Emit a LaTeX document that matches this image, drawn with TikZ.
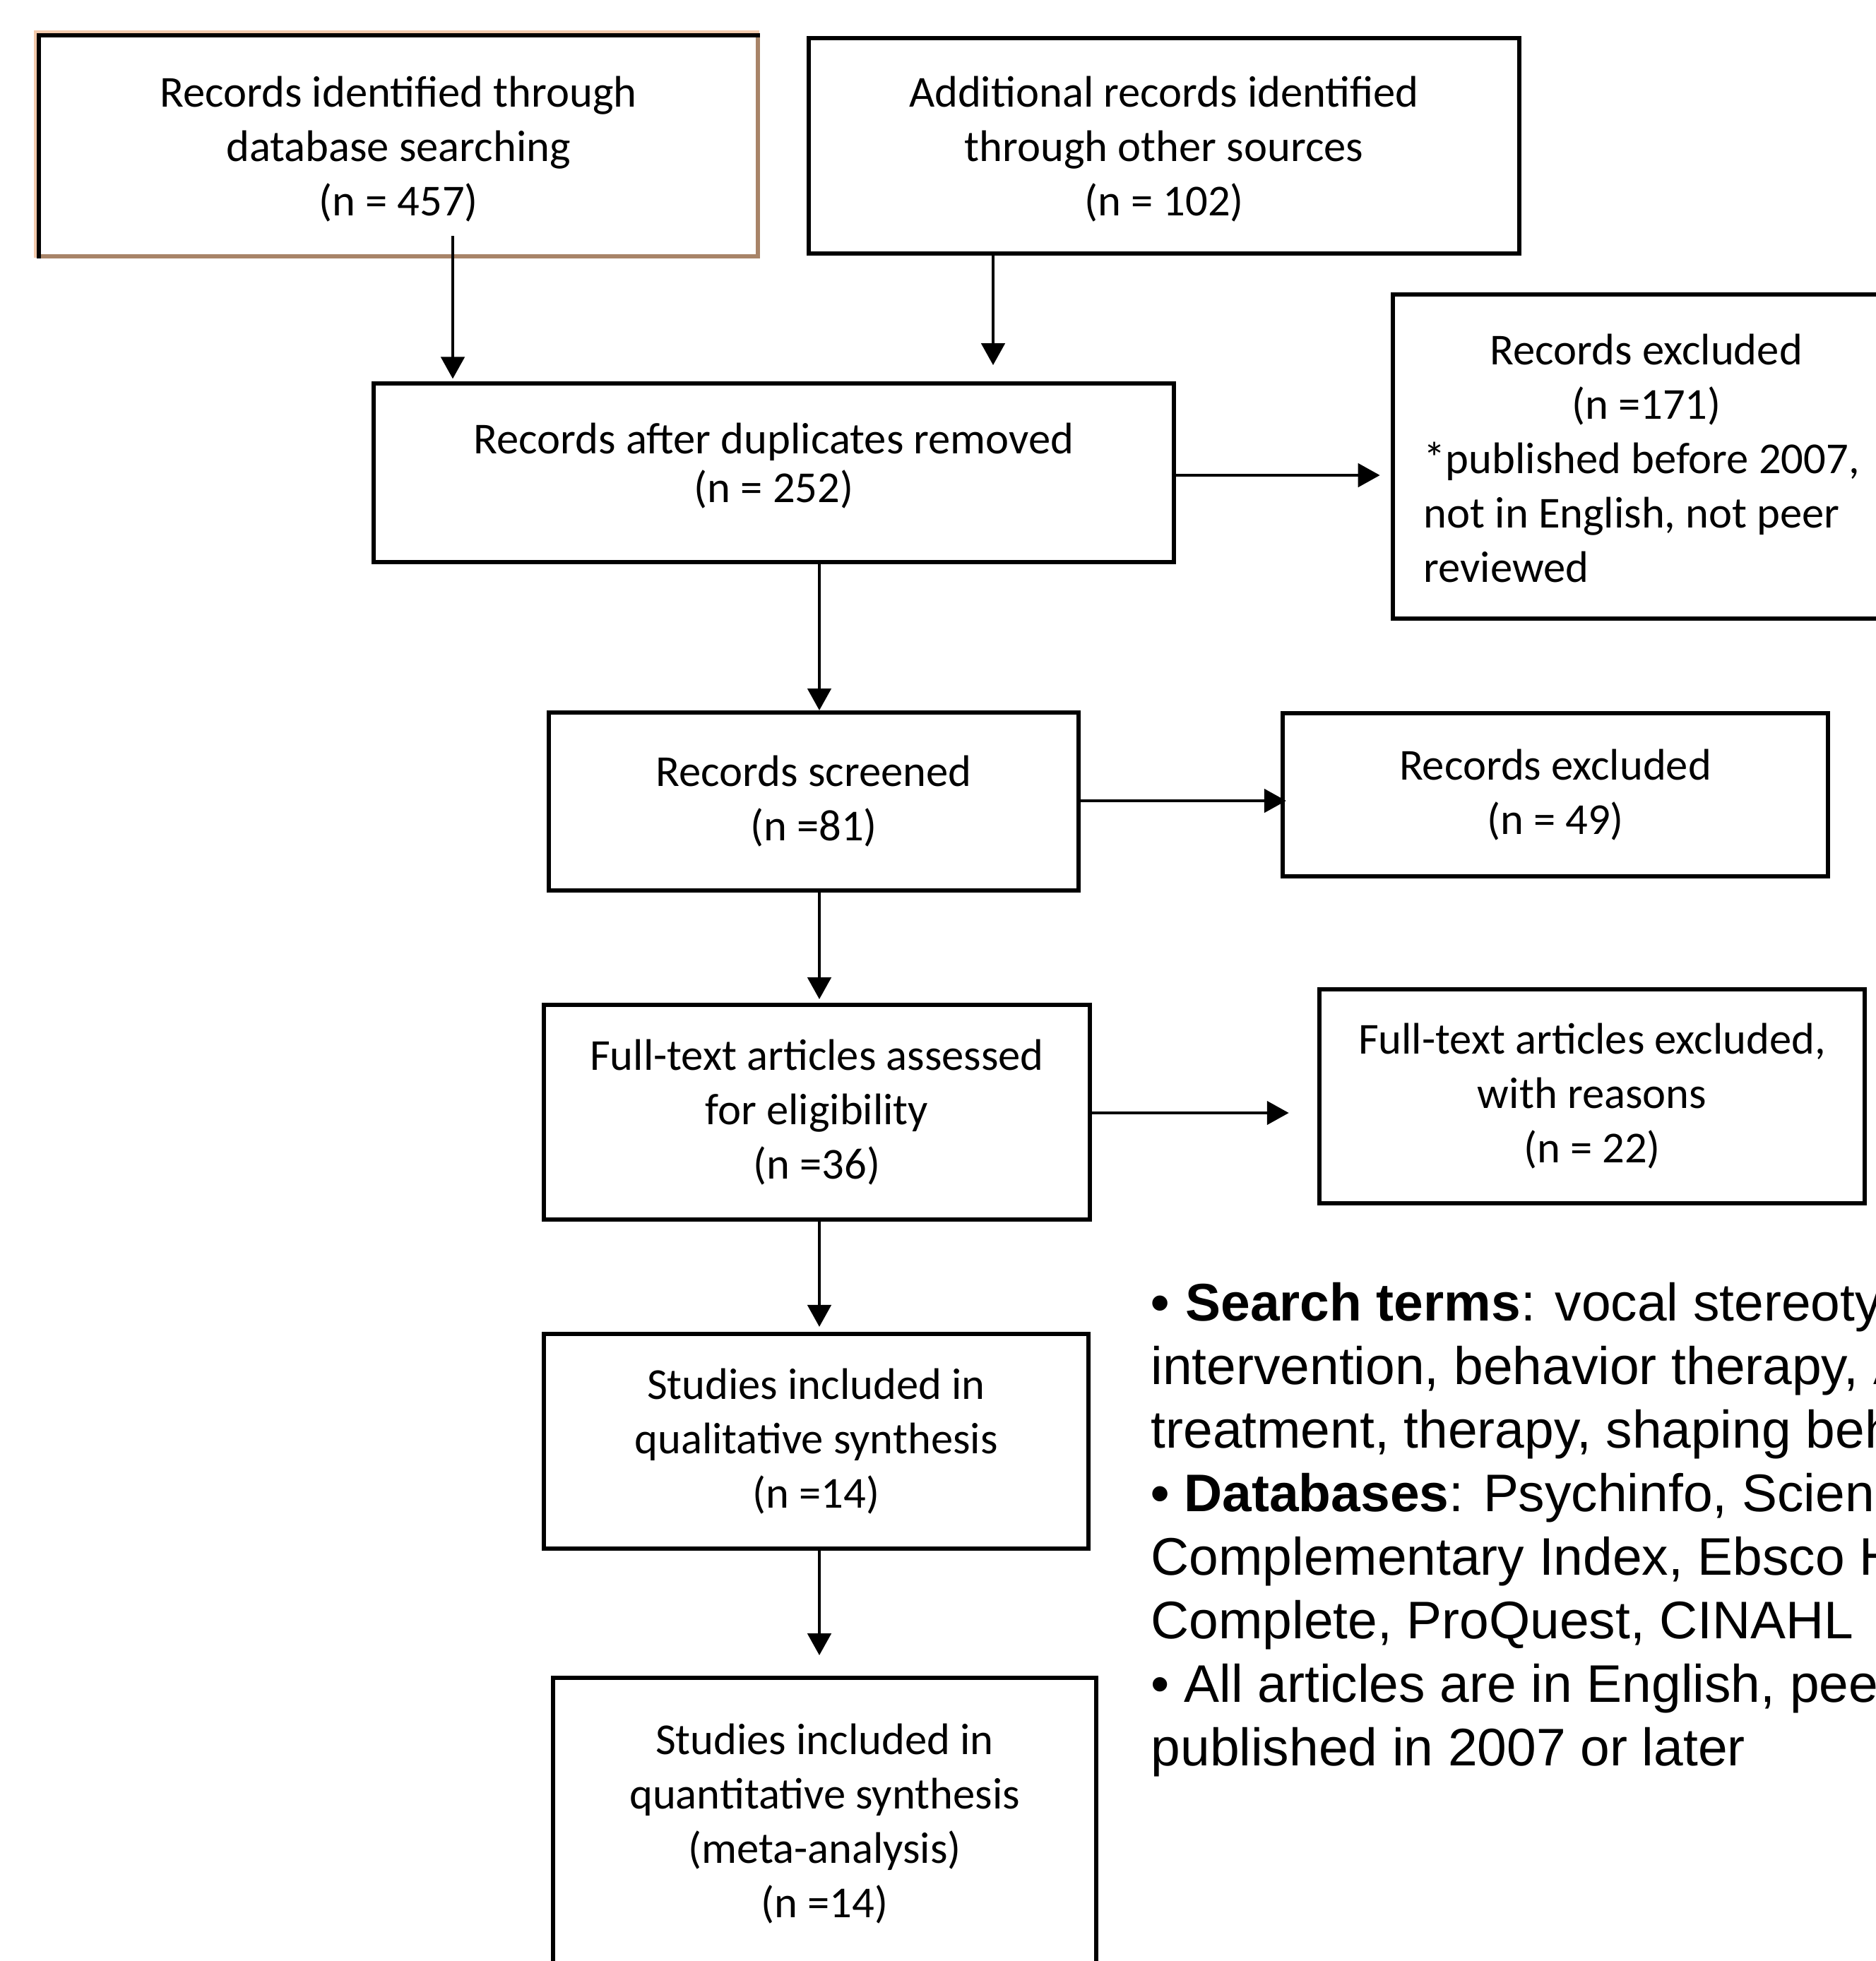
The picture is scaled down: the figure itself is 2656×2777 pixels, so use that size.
\documentclass[tikz,border=0pt]{standalone}
\usepackage{fontspec}
\setmainfont{Carlito}
\newfontfamily\arialf{Liberation Sans}
\usetikzlibrary{arrows.meta}
\definecolor{peachc}{HTML}{F2C9AC}
\definecolor{brownc}{HTML}{A88468}
\begin{document}
\begin{tikzpicture}[x=0.01cm,y=-0.01cm,
  flowbox/.style={draw, line width=1.7pt, inner sep=0pt, align=center,
    font=\fontsize{17.8pt}{21.9pt}\selectfont},
  flowtext/.style={inner sep=0pt, font=\fontsize{17.8pt}{21.9pt}\selectfont},
  notetext/.style={inner sep=0pt, font=\arialf\fontsize{21.3pt}{25.6pt}\selectfont},
  arr/.style={line width=1.3pt, -{Triangle[length=8.8pt,width=9.4pt]}}]
\useasboundingbox (0,0) rectangle (2656,2777);
\fill[white] (0,0) rectangle (2656,2777);
\clip (0,0) rectangle (2656,2777);

% box A (tan / black border)
\node[flowbox, draw=none, minimum width=10.12cm, minimum height=3.07cm, text depth=0pt] (A) at (564,206.5)
  {Records identified through\\database searching\\(n = 457)};
\draw[peachc, line width=1.1pt, line cap=rect] ([shift={(-5,0)}]A.south west) -- ([shift={(-5,-5)}]A.north west) -- ([shift={(0,-5)}]A.north east);
\draw[brownc, line width=1.7pt, line cap=rect] (A.north east) -- (A.south east) -- (A.south west);
\draw[black, line width=1.7pt, line cap=rect] (A.south west) -- (A.north west) -- (A.north east);

\node[flowbox, minimum width=10.06cm, minimum height=3.05cm, text depth=0pt] (B) at (1648,206.5)
  {Additional records identified\\through other sources\\(n = 102)};

\node[flowbox, minimum width=11.33cm, minimum height=2.53cm,
  font=\fontsize{17.8pt}{19.6pt}\selectfont, text depth=8pt] (C) at (1095.5,669.5)
  {Records after duplicates removed\\(n = 252)};

\node[flowbox, minimum width=7.28cm, minimum height=4.59cm] (D) at (2336,646.5) {};
\node[flowtext, anchor=base west] (Dt) at (2015,516)
  {\parbox[t]{6.3cm}{\makebox[6.3cm]{Records excluded}\\
   \makebox[6.3cm]{(n =171)}\\
   {}*published before 2007,\\
   not in English, not peer\\
   reviewed}};

\node[flowbox, minimum width=7.50cm, minimum height=2.52cm] (E) at (1152,1135)
  {Records screened\\(n =81)};
\node[flowbox, minimum width=7.72cm, minimum height=2.31cm] (F) at (2202,1125.5)
  {Records excluded\\(n = 49)};
\node[flowbox, minimum width=7.73cm, minimum height=3.04cm] (G) at (1156.5,1575)
  {Full-text articles assessed\\for eligibility\\(n =36)};
\node[flowbox, minimum width=7.72cm, minimum height=3.03cm] (H) at (2254,1552.5)
  {Full-text articles excluded,\\with reasons\\(n = 22)};
\node[flowbox, minimum width=7.71cm, minimum height=3.04cm] (I) at (1155.5,2041)
  {Studies included in\\qualitative synthesis\\(n =14)};
\node[flowbox, minimum width=7.69cm, minimum height=4.14cm] (J) at (1167.5,2583)
  {Studies included in\\quantitative synthesis\\(meta-analysis)\\(n =14)};

\node[notetext, anchor=base west] (notes) at (1629,1870)
  {\parbox[t]{20cm}{\raggedright
   {\bfseries •\hspace{0.3em}Search terms}: vocal stereoty\\
   intervention, behavior therapy, A\\
   treatment, therapy, shaping beh\\
   {\bfseries • Databases}: Psychinfo, Scienc\\
   Complementary Index, Ebsco H\\
   Complete, ProQuest, CINAHL\\
   • All articles are in English, pee\\
   published in 2007 or later}};

% connectors
\coordinate (As) at (641,334);
\coordinate (Bx) at (1406,0);
\coordinate (xm) at (1160,0);
\coordinate (yd) at (0,673);
\coordinate (yf) at (0,1134);
\coordinate (yh) at (0,1576);

\draw[arr, shorten >=1pt] (As) -- (As |- C.north);
\draw[arr, shorten >=6.5pt] (B.south -| Bx) -- (C.north -| Bx);
\draw[arr, shorten >=4.3pt] (C.east |- yd) -- (D.west |- yd);
\draw[arr] (C.south -| xm) -- (E.north -| xm);
\draw[arr, shorten >=-2.3pt] (E.east |- yf) -- (F.west |- yf);
\draw[arr, shorten >=1.4pt] (E.south -| xm) -- (G.north -| xm);
\draw[arr, shorten >=11.4pt] (G.east |- yh) -- (H.west |- yh);
\draw[arr, shorten >=2pt] (G.south -| xm) -- (I.north -| xm);
\draw[arr, shorten >=8.2pt] (I.south -| xm) -- (J.north -| xm);
\end{tikzpicture}
\end{document}
